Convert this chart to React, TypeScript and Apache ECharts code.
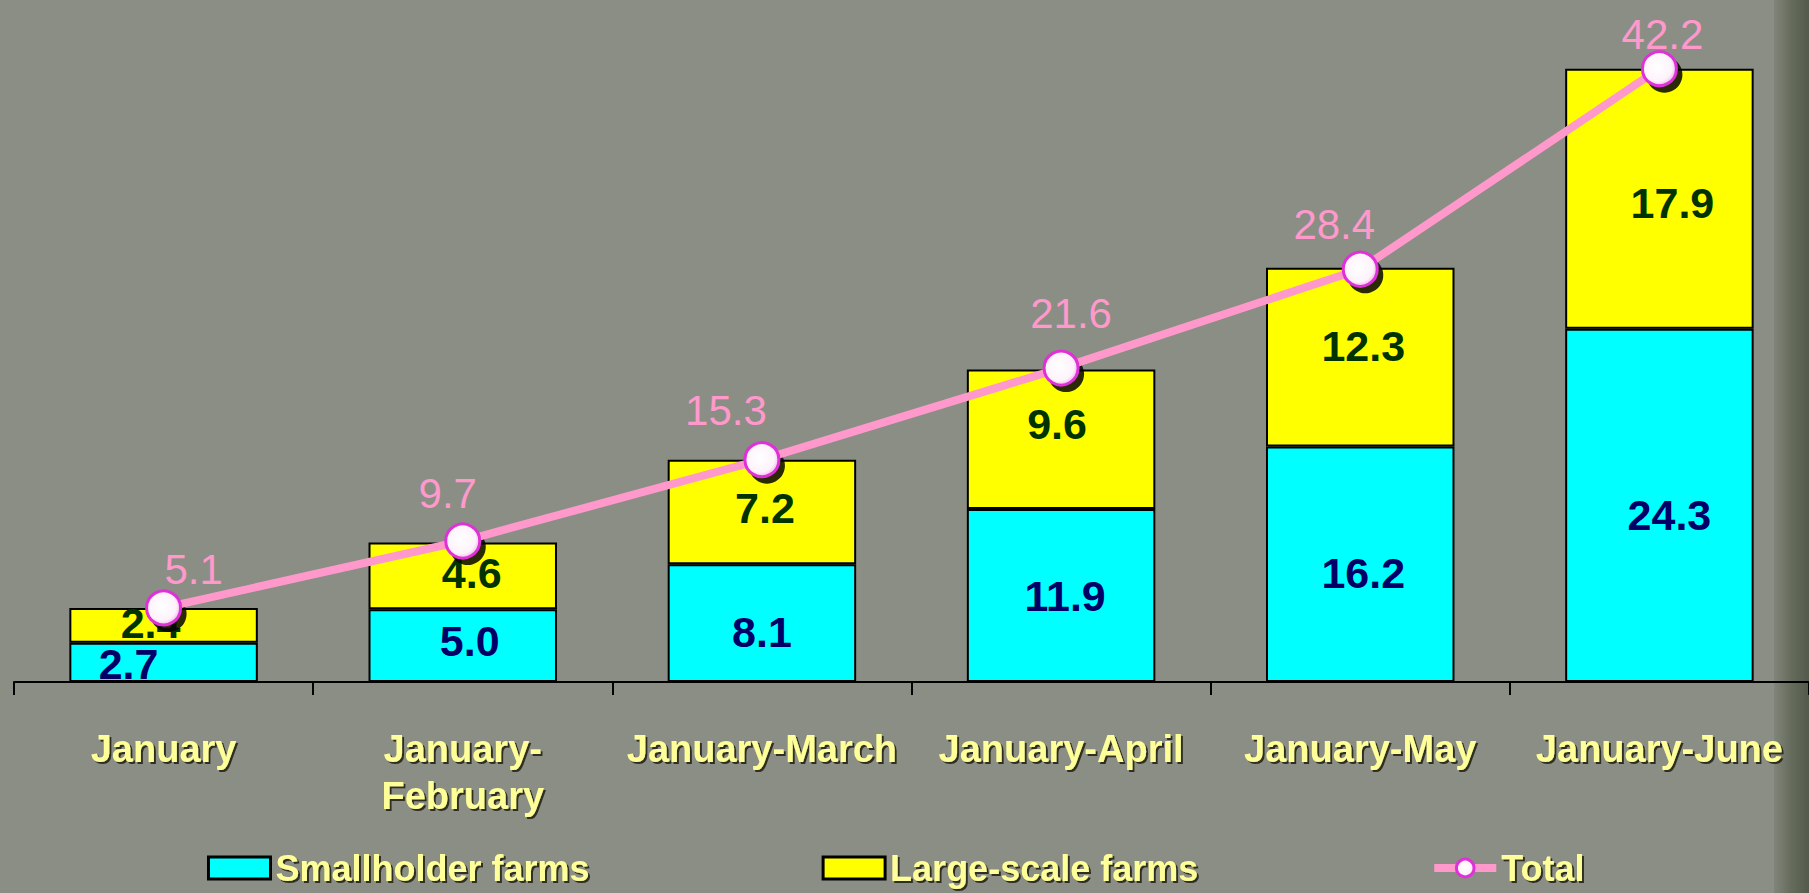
import React, { useEffect, useRef } from "react";
import * as echarts from "echarts";

const categories = [
  "January",
  "January-\nFebruary",
  "January-March",
  "January-April",
  "January-May",
  "January-June",
];
const smallholder = [2.7, 5.0, 8.1, 11.9, 16.2, 24.3];
const largeScale = [2.4, 4.6, 7.2, 9.6, 12.3, 17.9];
const total = [5.1, 9.7, 15.3, 21.6, 28.4, 42.2];

// label nudges (style only), [dx, dy] in px
const smallNudge = [[-35, 2], [7, -5], [0, 9], [4, 0], [3, 9], [10, 10]];
const largeNudge = [[-13, -2], [9, -3], [3, -4], [-4, -15], [3, -11], [13, 4]];
const totalNudge = [[30, 13], [-15, 4], [-36, 2], [10, -3], [-26, 7], [3, 17]];

const FONT = "'Liberation Sans', Arial, sans-serif";

export default function App() {
  const ref = useRef<HTMLDivElement>(null);

  useEffect(() => {
    if (!ref.current) return;
    const chart = echarts.init(ref.current, null, { renderer: "svg" });

    const fmt = (p: any) => Number(p.value).toFixed(1);

    const yellowText = {
      color: "#FFFF99",
      fontWeight: "bold" as const,
      fontFamily: FONT,
      fontSize: 36,
      textShadowColor: "rgba(35,35,25,0.9)",
      textShadowOffsetX: 2,
      textShadowOffsetY: 2,
      textShadowBlur: 1,
    };

    chart.setOption({
      animation: false,
      backgroundColor: "#8a8e84",
      graphic: [
        {
          type: "rect",
          z: -10,
          shape: { x: 1774, y: 0, width: 40, height: 893 },
          style: {
            fill: {
              type: "linear",
              x: 0, y: 0, x2: 1, y2: 0,
              colorStops: [
                { offset: 0, color: "#80857a" },
                { offset: 0.45, color: "#656b5b" },
                { offset: 1, color: "#4e5546" },
              ],
            },
          },
        },
      ],
      grid: { left: 14, right: 0, top: 28, height: 654, containLabel: false },
      legend: {
        left: 202,
        top: 845,
        itemGap: 232,
        itemWidth: 62,
        itemHeight: 22,
        textStyle: { ...yellowText },
        itemStyle: { borderWidth: 3, shadowBlur: 0, shadowOffsetX: 0, shadowOffsetY: 0 },
        lineStyle: { width: 8 },
        data: [
          { name: "Smallholder farms", icon: "rect" },
          { name: "Large-scale farms", icon: "rect" },
          { name: "Total" },
        ],
      },
      xAxis: {
        type: "category",
        data: categories,
        axisLine: { show: true, lineStyle: { color: "#000", width: 2 } },
        axisTick: { show: true, length: 13, lineStyle: { color: "#000", width: 2 } },
        axisLabel: { ...yellowText, fontSize: 38, margin: 43, lineHeight: 47, interval: 0 },
        splitLine: { show: false },
      },
      yAxis: {
        type: "value",
        min: 0,
        max: 45,
        show: false,
        splitLine: { show: false },
      },
      series: [
        {
          name: "Smallholder farms",
          type: "bar",
          stack: "farms",
          barWidth: "63%",
          itemStyle: { color: "#00FFFF", borderColor: "#000", borderWidth: 2 },
          label: {
            show: true,
            position: "inside",
            formatter: fmt,
            color: "#000066",
            fontFamily: FONT,
            fontWeight: "bold",
            fontSize: 43,
            lineHeight: 30,
          },
          data: smallholder.map((v, i) => ({
            value: v,
            label: { offset: smallNudge[i] },
          })),
        },
        {
          name: "Large-scale farms",
          type: "bar",
          stack: "farms",
          barWidth: "63%",
          itemStyle: { color: "#FFFF00", borderColor: "#000", borderWidth: 2 },
          label: {
            show: true,
            position: "inside",
            formatter: fmt,
            color: "#003300",
            fontFamily: FONT,
            fontWeight: "bold",
            fontSize: 43,
            lineHeight: 30,
          },
          data: largeScale.map((v, i) => ({
            value: v,
            label: { offset: largeNudge[i] },
          })),
        },
        {
          name: "Total shadow",
          type: "line",
          z: 4,
          silent: true,
          symbol: "circle",
          symbolSize: 36,
          symbolOffset: [5, 6],
          showSymbol: true,
          lineStyle: { width: 0, opacity: 0 },
          itemStyle: { color: "rgba(5,5,5,0.85)", borderWidth: 0 },
          label: { show: false },
          data: total,
        },
        {
          name: "Total",
          type: "line",
          z: 5,
          symbol: "circle",
          symbolSize: 34,
          lineStyle: { color: "#FF99CC", width: 8 },
          itemStyle: {
            color: {
              type: "radial",
              x: 0.45, y: 0.45, r: 0.6,
              colorStops: [
                { offset: 0, color: "#ffffff" },
                { offset: 0.7, color: "#fdf3fb" },
                { offset: 1, color: "#f2a6e6" },
              ],
            },
            borderColor: "#E030D8",
            borderWidth: 3,
          },
          label: {
            show: true,
            position: "top",
            distance: 12,
            formatter: fmt,
            color: "#FF99CC",
            fontFamily: FONT,
            fontSize: 42,
            textShadowColor: "rgba(90,60,100,0.9)",
            textShadowOffsetX: 1.5,
            textShadowOffsetY: 1.5,
            textShadowBlur: 0,
          },
          data: total.map((v, i) => ({
            value: v,
            label: { offset: totalNudge[i] },
          })),
        },
      ],
    });

    return () => chart.dispose();
  }, []);

  return (
    <div
      ref={ref}
      style={{ position: "absolute", left: 0, top: 0, width: 1809, height: 893 }}
    />
  );
}
